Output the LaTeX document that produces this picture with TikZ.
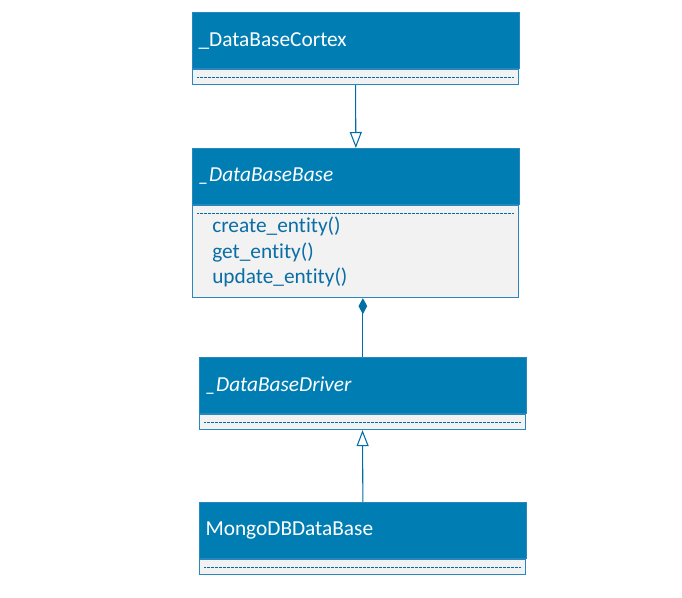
\documentclass[tikz,border=0pt]{standalone}
\usepackage{fontspec}
\setmainfont{Carlito}[Ligatures=NoCommon]
\usetikzlibrary{arrows.meta,positioning,calc}
\definecolor{hdrblue}{RGB}{0,126,180}
\definecolor{edgeblue}{RGB}{40,135,190}
\definecolor{lineblue}{RGB}{0,110,165}
\definecolor{compgray}{RGB}{242,242,242}
\definecolor{methblue}{RGB}{10,110,165}
\tikzset{
  hdr/.style={draw=edgeblue, line width=0.8pt, fill=hdrblue, rectangle, anchor=north west,
    minimum width=244.5pt, minimum height=42pt, text width=236pt, inner xsep=4.5pt,
    align=left, text=white, font=\fontsize{16}{19}\selectfont},
  comp/.style={draw=edgeblue, line width=0.8pt, fill=compgray, rectangle, anchor=north west,
    minimum width=244.5pt, inner sep=0pt},
  dotline/.style={draw=lineblue, line width=0.4pt, dash pattern=on 0.5pt off 0.5pt},
  conn/.style={draw=lineblue, line width=0.8pt},
  gen/.style={conn, -{Triangle[open, length=12pt, width=9pt, line width=0.8pt]}},
  compo/.style={conn, {Diamond[length=12pt, width=6.5pt]}-},
  meth/.style={anchor=north west, align=left, inner sep=0pt, text=methblue,
    font=\fontsize{16}{19}\selectfont}
}
\begin{document}
\begin{tikzpicture}[x=0.75pt,y=-0.75pt]
\useasboundingbox (0,0) rectangle (682,598);
% class 1
\node[hdr] (h1) at (192,12) {\_DataBaseCortex};
\node[comp, minimum height=11.25pt] (c1) at (h1.south west) {};
\draw[dotline] ($(c1.north west)+(5,8)$) coordinate (d1a) -- ($(c1.north east)+(-5,8)$) coordinate (d1b);
% class 2
\node[hdr] (h2) at (192,148) {\itshape \_DataBaseBase};
\node[comp, minimum height=69pt] (c2) at (h2.south west) {};
\draw[dotline] ($(c2.north west)+(5,8)$) coordinate (d2a) -- ($(c2.north east)+(-5,8)$) coordinate (d2b);
\node[meth] (m2) at ($(c2.north west)+(20,12)$) {create\_entity()\\get\_entity()\\update\_entity()};
% class 3
\node[hdr] (h3) at (199,357) {\itshape \_DataBaseDriver};
\node[comp, minimum height=11.25pt] (c3) at (h3.south west) {};
\draw[dotline] ($(c3.north west)+(5,8)$) coordinate (d3a) -- ($(c3.north east)+(-5,8)$) coordinate (d3b);
% class 4
\node[hdr] (h4) at (199,502) {MongoDBDataBase};
\node[comp, minimum height=11.25pt] (c4) at (h4.south west) {};
\draw[dotline] ($(c4.north west)+(5,8)$) coordinate (d4a) -- ($(c4.north east)+(-5,8)$) coordinate (d4b);
% connectors
\draw[gen] (c1.south) -- (h2.north);
\draw[compo] (h3.north |- c2.south) -- (h3.north);
\draw[gen] (h4.north) -- (c3.south);
\end{tikzpicture}
\end{document}
